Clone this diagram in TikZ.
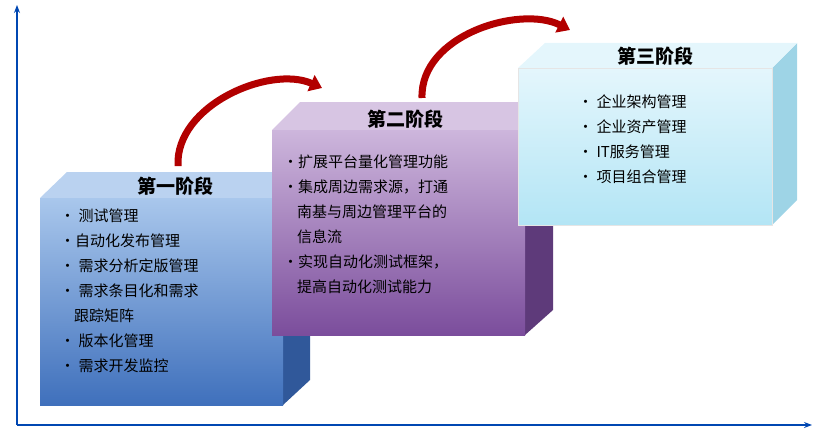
\documentclass[tikz,border=0pt]{standalone}
\usepackage{fontspec}
\setmainfont{Noto Sans CJK SC}
\usetikzlibrary{arrows.meta}
\newcommand{\ind}{\hspace*{14pt}}
\begin{document}
\begin{tikzpicture}[x=1pt,y=-1pt,
  axis/.style={draw=blue!60!cyan!70!black,line width=1.3pt,-{Stealth[length=8pt]}},
  bul/.style={anchor=north west,align=left,font=\fontsize{15}{25}\selectfont,inner sep=0pt},
  ttl/.style={font=\bfseries\fontsize{19}{22}\selectfont,inner sep=0pt},
  curv/.style={draw=red!70!black,line width=7pt,-{Triangle[length=12pt,width=17pt]}}]
\useasboundingbox (0,0) rectangle (824,436);
\definecolor{bA}{HTML}{A9C7EC}\definecolor{bB}{HTML}{3F70BC}\definecolor{bS}{HTML}{30589A}
\definecolor{pA}{HTML}{CDB6DC}\definecolor{pB}{HTML}{7B4D9C}\definecolor{pS}{HTML}{5E3A7A}
\definecolor{cA}{HTML}{E4F6FC}\definecolor{cB}{HTML}{B3E5F5}\definecolor{cS}{HTML}{9ED4E6}
\coordinate (o) at (17,425);
\coordinate (ytop) at (17,5);
\coordinate (xend) at (812,425);
\draw[axis] (o) -- (ytop);
\draw[axis] (o) -- (xend);
% box 1
\fill[bS] (283,198) -- (310,172) -- (310,380) -- (283,405) -- cycle;
\fill[bA!80!white] (40,198) -- (67,172) -- (310,172) -- (283,198) -- cycle;
\shade[top color=bA,bottom color=bB] (40,198) rectangle (283,405);
\node[ttl] (t1) at (175,186) {第一阶段};
\node[bul] (l1) at (60,209) {•\ 测试管理\\•自动化发布管理\\•\ 需求分析定版管理\\•\ 需求条目化和需求\\\ind 跟踪矩阵\\•\ 版本化管理\\•\ 需求开发监控};
% box 2
\fill[pS] (525,130) -- (553,102) -- (553,310) -- (525,335) -- cycle;
\fill[pA!80!white] (272,130) -- (300,102) -- (553,102) -- (525,130) -- cycle;
\shade[top color=pA,bottom color=pB] (272,130) rectangle (525,335);
\node[ttl] (t2) at (405,119) {第二阶段};
\node[bul] (l2) at (283,155) {•扩展平台量化管理功能\\•集成周边需求源，打通\\\ind 南基与周边管理平台的\\\ind 信息流\\•实现自动化测试框架，\\\ind 提高自动化测试能力};
% box 3
\fill[cS] (772,68) -- (797,43) -- (797,200) -- (772,225) -- cycle;
\fill[cA] (518,68) -- (545,43) -- (797,43) -- (772,68) -- cycle;
\shade[top color=cA,bottom color=cB] (518,68) rectangle (772,225);
\draw[white!80!gray] (518,68) rectangle (772,225);
\node[ttl] (t3) at (655,56) {第三阶段};
\node[bul] (l3) at (578,95) {•\ 企业架构管理\\•\ 企业资产管理\\•\ IT服务管理\\•\ 项目组合管理};
% arrows
\coordinate (a1s) at (178,166);
\coordinate (a1e) at (322,88);
\coordinate (a2s) at (422,98);
\coordinate (a2e) at (570,30);
\draw[curv] (a1s) .. controls (175,105) and (270,65) .. (a1e);
\draw[curv] (a2s) .. controls (420,35) and (520,5) .. (a2e);
\end{tikzpicture}
\end{document}
